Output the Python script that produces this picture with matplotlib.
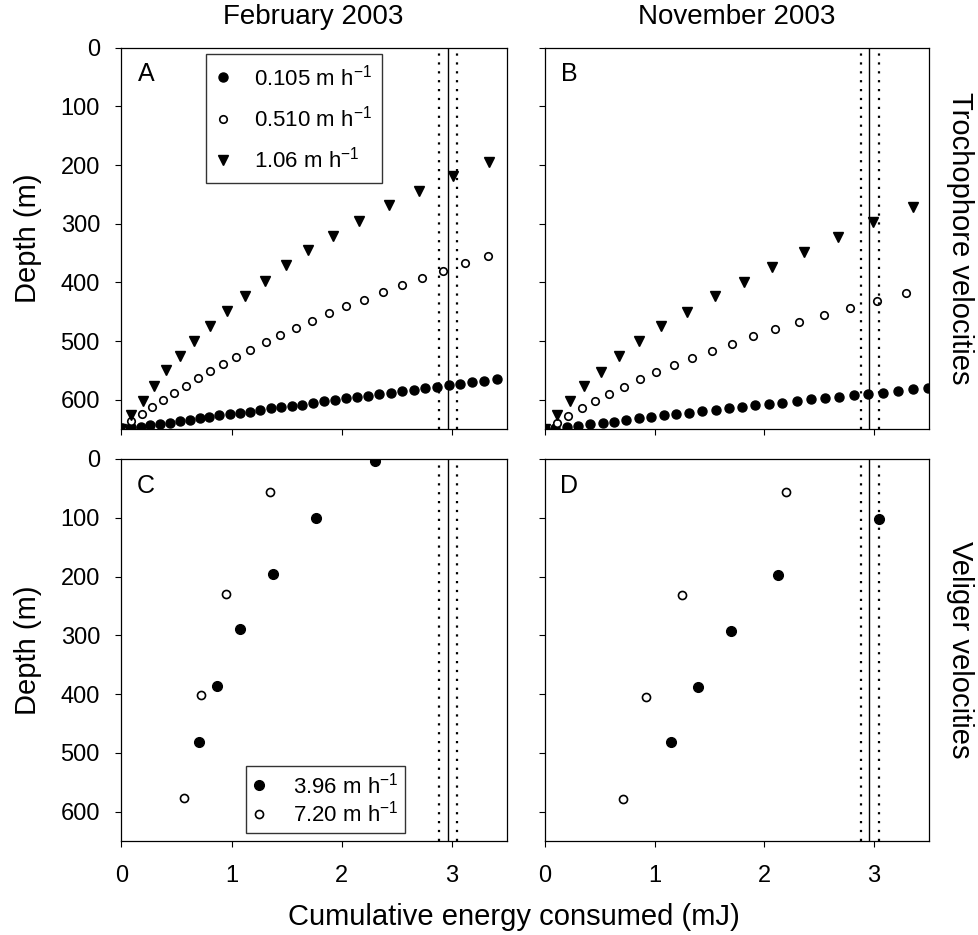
import matplotlib
matplotlib.use('Agg')
import matplotlib.pyplot as plt

plt.rcParams['font.family'] = ['Liberation Sans', 'DejaVu Sans']
plt.rcParams['mathtext.default'] = 'regular'

# Panel A: February 2003, trochophore velocities (energy in mJ, depth in m)
a_slow_x = [0.002, 0.084, 0.175, 0.260, 0.351, 0.442, 0.533, 0.618, 0.709, 0.798, 0.889, 0.983,
            1.074, 1.165, 1.256, 1.354, 1.451, 1.545, 1.643, 1.739, 1.839, 1.940, 2.037, 2.135,
            2.240, 2.341, 2.448, 2.548, 2.655, 2.758, 2.865, 2.970, 3.077, 3.183, 3.295, 3.408]
a_slow_d = [648, 646.5, 646, 644, 642, 639, 637, 634.5, 631, 629, 626, 625,
            623, 621, 618, 615, 613, 611, 608.5, 606, 603, 600, 598, 596,
            593, 591, 589, 586, 583, 580.5, 578, 575, 573, 570, 568, 565]
a_mid_x = [0.002, 0.084, 0.184, 0.281, 0.381, 0.481, 0.585, 0.691, 0.807, 0.923, 1.044, 1.171,
           1.308, 1.436, 1.582, 1.734, 1.880, 2.037, 2.204, 2.372, 2.548, 2.730, 2.919, 3.122, 3.323]
a_mid_d = [648, 637, 625, 612, 600, 588, 576, 563, 551, 539, 527, 515,
           502, 490, 478, 466, 453, 441, 430, 416, 404, 392, 380, 367, 355]
a_fast_x = [0.0, 0.087, 0.199, 0.299, 0.406, 0.533, 0.661, 0.800, 0.959, 1.117, 1.299, 1.490,
            1.697, 1.922, 2.159, 2.427, 2.703, 3.010, 3.335]
a_fast_d = [650, 626, 602, 577, 550, 525, 500, 474, 449, 423, 397, 371,
            345, 321, 295, 269, 245, 219, 194]

# Panel B: November 2003, trochophore velocities
b_slow_x = [0.0, 0.09, 0.199, 0.305, 0.412, 0.525, 0.632, 0.742, 0.854, 0.968, 1.083, 1.199, 1.312,
            1.434, 1.557, 1.679, 1.801, 1.917, 2.045, 2.167, 2.299, 2.427, 2.558, 2.686,
            2.818, 2.952, 3.084, 3.221, 3.358, 3.496]
b_slow_d = [650, 648, 646, 644.5, 642, 640, 637.5, 634.6, 631.8, 629.5, 626.7, 625, 622,
            619.8, 617.5, 614, 612, 609.5, 607.3, 605, 602.7, 599.3, 597.5, 594.9,
            592.5, 590.3, 588, 584.6, 582.2, 579.4]
b_mid_x = [0.0, 0.107, 0.213, 0.336, 0.458, 0.586, 0.717, 0.864, 1.014, 1.175, 1.344, 1.520,
           1.703, 1.899, 2.100, 2.320, 2.543, 2.784, 3.028, 3.297]
b_mid_d = [650, 639, 627, 615, 602, 590, 578, 565, 553, 541, 529, 517,
           505, 492, 480, 468, 456, 444, 432, 419]
b_fast_x = [0.0, 0.107, 0.229, 0.360, 0.510, 0.678, 0.861, 1.062, 1.298, 1.548, 1.816, 2.076,
            2.365, 2.671, 2.997, 3.358]
b_fast_d = [650, 626, 602, 577, 552, 525, 500, 475, 450, 424, 399, 373,
            348, 323, 297, 272]

# Panels C and D: veliger velocities
c_slow_x = [2.30, 1.77, 1.38, 1.08, 0.87, 0.70]
c_slow_d = [3, 100, 195, 290, 386, 481]
c_fast_x = [1.35, 0.95, 0.72, 0.57]
c_fast_d = [56, 229, 402, 576]
d_slow_x = [3.05, 2.13, 1.70, 1.40, 1.15]
d_slow_d = [102, 197, 292, 388, 482]
d_fast_x = [2.20, 1.25, 0.92, 0.71]
d_fast_d = [57, 231, 405, 578]

# energy available (mean and bounds)
energy_mean = 2.96
energy_lo = 2.88
energy_hi = 3.045

troch_labels = ['0.105 m h$^{-1}$', '0.510 m h$^{-1}$', '1.06 m h$^{-1}$']
veliger_labels = ['3.96 m h$^{-1}$', '7.20 m h$^{-1}$']

W, H = 979, 935
fig = plt.figure(figsize=(W / 100, H / 100), dpi=100)


def px_axes(l, t, r, b):
    return fig.add_axes([l / W, 1 - b / H, (r - l) / W, (b - t) / H])


axA = px_axes(121.5, 47.7, 507, 429)
axB = px_axes(545, 47.7, 928.5, 429)
axC = px_axes(121.5, 459, 507, 841)
axD = px_axes(545, 459, 928.5, 841)

filled = dict(marker='o', mfc='black', mec='black', ls='none')
hollow = dict(marker='o', mfc='white', mec='black', mew=1.2, ls='none')
tri = dict(marker='v', ms=6.8, mfc='black', mec='black', ls='none')

for ax, sx, sd, mx, md, fx, fd in [(axA, a_slow_x, a_slow_d, a_mid_x, a_mid_d, a_fast_x, a_fast_d),
                                    (axB, b_slow_x, b_slow_d, b_mid_x, b_mid_d, b_fast_x, b_fast_d)]:
    ax.plot(sx, sd, label=troch_labels[0], ms=6.5, **filled)
    ax.plot(mx, md, label=troch_labels[1], ms=5.4, **hollow)
    ax.plot(fx, fd, label=troch_labels[2], **tri)

for ax, sx, sd, fx, fd in [(axC, c_slow_x, c_slow_d, c_fast_x, c_fast_d),
                            (axD, d_slow_x, d_slow_d, d_fast_x, d_fast_d)]:
    ax.plot(sx, sd, label=veliger_labels[0], ms=7, **filled)
    ax.plot(fx, fd, label=veliger_labels[1], ms=5.8, **hollow)

for ax, letter in zip([axA, axB, axC, axD], 'ABCD'):
    ax.axvline(energy_mean, color='black', lw=1.0)
    ax.axvline(energy_lo, color='black', lw=1.6, ls=(0, (1, 3)))
    ax.axvline(energy_hi, color='black', lw=1.6, ls=(0, (1, 3)))
    ax.set_xlim(0, 3.5)
    ax.set_ylim(650, 0)
    ax.set_xticks([0, 1, 2, 3])
    ax.set_yticks([0, 100, 200, 300, 400, 500, 600])
    ax.tick_params(direction='out', length=4.5, width=0.8, labelsize=17)
    ax.tick_params(axis='y', pad=11)
    ax.tick_params(axis='x', pad=13)
    for sp in ax.spines.values():
        sp.set_linewidth(0.9)
    ax.text(0.063, 0.93, letter, transform=ax.transAxes, fontsize=18, va='center', ha='center')

for ax in [axA, axB]:
    ax.tick_params(labelbottom=False)
for ax in [axB, axD]:
    ax.tick_params(labelleft=False)

legA = axA.legend(loc='upper left', bbox_to_anchor=(0.219, 0.983), fontsize=16, frameon=True,
                  fancybox=False, edgecolor='black', handlelength=0.6, handletextpad=1.1,
                  labelspacing=0.7, borderpad=0.45, borderaxespad=0)
legA.get_frame().set_linewidth(1.0)
legC = axC.legend(loc='lower left', bbox_to_anchor=(0.323, 0.021), fontsize=16, frameon=True,
                  fancybox=False, edgecolor='black', handlelength=0.6, handletextpad=1.2,
                  labelspacing=0.1, borderpad=0.3, borderaxespad=0)
legC.get_frame().set_linewidth(1.0)

fig.text(313 / W, 1 - 17 / H, 'February 2003', fontsize=20, ha='center', va='center')
fig.text(737 / W, 1 - 17 / H, 'November 2003', fontsize=20, ha='center', va='center')
fig.text(28 / W, 1 - 238 / H, 'Depth (m)', fontsize=21, rotation=90, ha='center', va='center')
fig.text(28 / W, 1 - 650 / H, 'Depth (m)', fontsize=21, rotation=90, ha='center', va='center')
fig.text(960 / W, 1 - 238 / H, 'Trochophore velocities', fontsize=21, rotation=270,
         ha='center', va='center')
fig.text(960 / W, 1 - 650 / H, 'Veliger velocities', fontsize=21, rotation=270,
         ha='center', va='center')
fig.text(514 / W, 1 - 917 / H, 'Cumulative energy consumed (mJ)', fontsize=21,
         ha='center', va='center')

fig.savefig('out.png', dpi=100)
